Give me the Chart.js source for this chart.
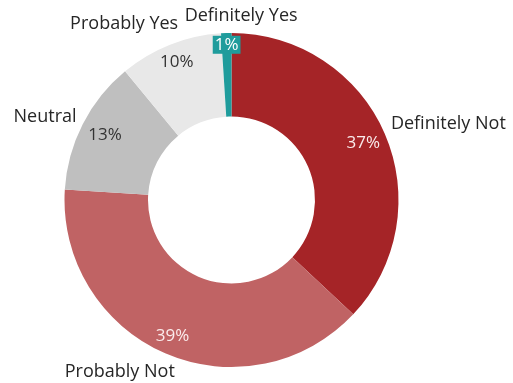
<!DOCTYPE html>
<html>
<head>
<meta charset="utf-8">
<script src="https://cdn.jsdelivr.net/npm/chart.js@4"></script>
<style>
  html, body { margin: 0; padding: 0; background: #fff; }
  #wrap { width: 513px; height: 383px; }
</style>
</head>
<body>
<div id="wrap"><canvas id="donut"></canvas></div>
<script>
const answers = ['Definitely Not', 'Probably Not', 'Neutral', 'Probably Yes', 'Definitely Yes'];
const shares = [37, 39, 13, 10, 1];
const sliceColors = ['#a52427', '#c06364', '#bfbfbf', '#e8e8e8', '#1f9c9c'];

// label placement per slice: percent at a fraction of the outer radius,
// name shifted by an angle (deg) and pushed out to a fraction of the radius
const pctRadius = [0.86, 0.89, 0.85, 0.89, 0.93];
const pctColor = ['#fbecec', '#fbecec', '#333333', '#333333', '#ffffff'];
const nameShift = [4, 9.6, -3, -9.8, 4.8];
const nameRadius = [1.377, 1.228, 1.222, 1.234, 1.102];

const sliceLabels = {
    id: 'sliceLabels',
    afterDatasetsDraw(chart) {
        const ctx = chart.ctx;
        const meta = chart.getDatasetMeta(0);
        ctx.save();
        ctx.textAlign = 'center';
        ctx.textBaseline = 'middle';
        meta.data.forEach((arc, i) => {
            const p = arc.getProps(['x', 'y', 'startAngle', 'endAngle', 'outerRadius']);
            const mid = (p.startAngle + p.endAngle) / 2;

            // percentage inside the ring
            ctx.font = '17px "Open Sans", sans-serif';
            const pr = p.outerRadius * pctRadius[i];
            const px = p.x + Math.cos(mid) * pr;
            const py = p.y + Math.sin(mid) * pr;
            const txt = shares[i] + '%';
            if (i === 4) {
                const w = ctx.measureText(txt).width + 4;
                ctx.fillStyle = sliceColors[i];
                ctx.fillRect(px - w / 2, py - 9, w, 18);
            }
            ctx.fillStyle = pctColor[i];
            ctx.fillText(txt, px, py);

            // category name outside the ring
            ctx.font = '18px "Open Sans", sans-serif';
            const a = mid + nameShift[i] * Math.PI / 180;
            const nr = p.outerRadius * nameRadius[i];
            ctx.fillStyle = '#262626';
            ctx.fillText(answers[i], p.x + Math.cos(a) * nr, p.y + Math.sin(a) * nr);
        });
        ctx.restore();
    }
};

new Chart(document.getElementById('donut'), {
    type: 'doughnut',
    data: {
        labels: answers,
        datasets: [{
            data: shares,
            backgroundColor: sliceColors,
            borderWidth: 0,
        }],
    },
    options: {
        responsive: true,
        maintainAspectRatio: false,
        animation: false,
        cutout: '50%',
        layout: { padding: { top: 33, bottom: 16, left: 40, right: 90 } },
        plugins: {
            legend: { display: false },
            tooltip: { enabled: false },
        },
    },
    plugins: [sliceLabels],
});
</script>
</body>
</html>
